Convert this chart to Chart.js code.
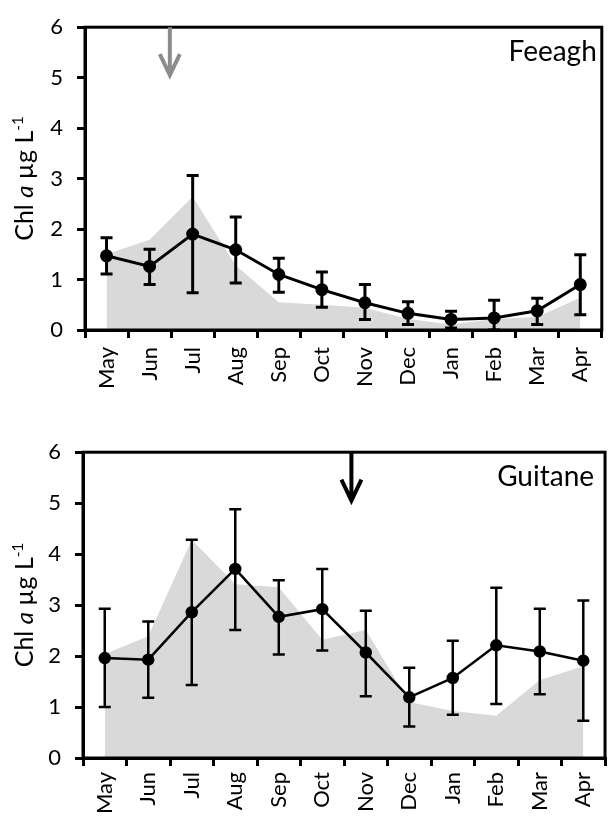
<!DOCTYPE html>
<html>
<head>
<meta charset="utf-8">
<script src="https://cdn.jsdelivr.net/npm/chart.js@4.4.1/dist/chart.umd.min.js"></script>
<style>
    html, body { margin: 0; padding: 0; background: #fff; }
    #wrap { position: relative; width: 616px; height: 818px; overflow: hidden; }
    .panel { position: absolute; left: 0; width: 616px; }
</style>
</head>
<body>
<div id="wrap">
    <div class="panel" style="top:0;height:410px"><canvas id="feeaghChart" width="616" height="410"></canvas></div>
    <div class="panel" style="top:425px;height:393px"><canvas id="guitaneChart" width="616" height="393"></canvas></div>
</div>
<script>
const months = ['May', 'Jun', 'Jul', 'Aug', 'Sep', 'Oct', 'Nov', 'Dec', 'Jan', 'Feb', 'Mar', 'Apr'];
const yMin = 0;
const yMax = 6;

// Feeagh
const feeaghMean  = [1.47, 1.26, 1.90, 1.59, 1.10, 0.80, 0.54, 0.33, 0.21, 0.24, 0.38, 0.90];
const feeaghUpper = [1.83, 1.60, 3.06, 2.24, 1.42, 1.15, 0.90, 0.56, 0.37, 0.59, 0.63, 1.49];
const feeaghLower = [1.11, 0.90, 0.74, 0.93, 0.75, 0.45, 0.21, 0.11, 0.04, 0.00, 0.11, 0.30];
const feeaghArea  = [1.50, 1.79, 2.64, 1.28, 0.55, 0.50, 0.44, 0.22, 0.11, 0.22, 0.26, 0.64];
const feeaghArrowAt = 1.47;

// Guitane
const guitaneMean  = [1.96, 1.93, 2.86, 3.71, 2.77, 2.92, 2.07, 1.19, 1.57, 2.21, 2.09, 1.91];
const guitaneUpper = [2.93, 2.68, 4.28, 4.88, 3.49, 3.71, 2.89, 1.77, 2.30, 3.34, 2.93, 3.09];
const guitaneLower = [1.00, 1.18, 1.43, 2.51, 2.03, 2.11, 1.21, 0.62, 0.85, 1.06, 1.25, 0.73];
const guitaneArea  = [2.04, 2.39, 4.28, 3.41, 3.35, 2.32, 2.51, 1.10, 0.92, 0.83, 1.53, 1.80];
const guitaneArrowAt = 5.67;

const FONT = 'Lato, "Open Sans", sans-serif';
Chart.defaults.color = '#000';
Chart.defaults.font.family = FONT;

// error bars, frame, arrow, lake name and y title
const panelExtras = {
    id: 'panelExtras',
    afterDatasetsDraw(chart, args, opts) {
        const ctx = chart.ctx;
        const x = chart.scales.x;
        const y = chart.scales.y;
        ctx.save();
        ctx.strokeStyle = '#000';
        ctx.lineWidth = opts.barWidth;
        ctx.lineCap = 'butt';
        opts.upper.forEach((hi, i) => {
            const px = x.getPixelForValue(i);
            const top = y.getPixelForValue(hi);
            const bot = y.getPixelForValue(opts.lower[i]);
            ctx.beginPath();
            ctx.moveTo(px, top);
            ctx.lineTo(px, bot);
            ctx.moveTo(px - 6, top);
            ctx.lineTo(px + 6, top);
            ctx.moveTo(px - 6, bot);
            ctx.lineTo(px + 6, bot);
            ctx.stroke();
        });
        ctx.restore();
    },
    afterDraw(chart, args, opts) {
        const ctx = chart.ctx;
        const a = chart.chartArea;
        const x = chart.scales.x;
        const y = chart.scales.y;
        ctx.save();

        // box round the plot
        ctx.strokeStyle = '#000';
        ctx.lineWidth = 3;
        ctx.strokeRect(a.left, a.top, a.right - a.left, a.bottom - a.top);

        // arrow
        const ax = x.getPixelForValue(opts.arrowAt);
        const tip = y.getPixelForValue(5.05);
        ctx.strokeStyle = opts.arrowColor;
        ctx.lineWidth = 4;
        ctx.beginPath();
        ctx.moveTo(ax, a.top);
        ctx.lineTo(ax, tip);
        ctx.moveTo(ax - 10, tip - 21);
        ctx.lineTo(ax, tip);
        ctx.lineTo(ax + 10, tip - 21);
        ctx.stroke();

        // lake name
        ctx.fillStyle = '#000';
        ctx.font = '28px ' + FONT;
        ctx.textAlign = 'right';
        ctx.textBaseline = 'alphabetic';
        ctx.fillText(opts.name, a.right - opts.nameInset, a.top + 34);

        // y title: Chl a µg L-1
        const big = '25px ' + FONT;
        const ital = 'italic 24px ' + FONT;
        const small = '15px ' + FONT;
        const parts = [
            {t: 'Chl ', f: big, dy: 0},
            {t: 'a', f: ital, dy: 0},
            {t: ' \u00b5g L', f: big, dy: 0},
            {t: '-1', f: small, dy: -10}
        ];
        let total = 0;
        parts.forEach(p => { ctx.font = p.f; p.w = ctx.measureText(p.t).width; total += p.w; });
        ctx.translate(33, (a.top + a.bottom) / 2);
        ctx.rotate(-Math.PI / 2);
        ctx.textAlign = 'left';
        let cx = -total / 2;
        parts.forEach(p => {
            ctx.font = p.f;
            ctx.fillText(p.t, cx, p.dy);
            cx += p.w;
        });
        ctx.restore();
    }
};

function makeChart(canvasId, cfg) {
    const ctx = document.getElementById(canvasId);
    return new Chart(ctx, {
        type: 'line',
        data: {
            labels: months,
            datasets: [{
                data: cfg.mean,
                borderColor: '#000',
                borderWidth: cfg.lineWidth,
                pointRadius: 5,
                pointBackgroundColor: '#000',
                pointBorderColor: '#000',
                tension: 0,
                fill: false,
                order: 1
            }, {
                data: cfg.area,
                borderWidth: 0,
                borderColor: 'rgba(0,0,0,0)',
                backgroundColor: '#d9d9d9',
                pointRadius: 0,
                tension: 0,
                fill: 'origin',
                order: 2
            }]
        },
        options: {
            responsive: false,
            animation: false,
            events: [],
            layout: {
                padding: {top: cfg.top, right: 2, left: 0, bottom: 0}
            },
            scales: {
                x: {
                    offset: true,
                    afterFit: (scale) => { scale.height = cfg.xHeight; },
                    grid: {
                        offset: true,
                        drawOnChartArea: false,
                        drawTicks: true,
                        tickLength: 8,
                        color: '#000',
                        lineWidth: 3
                    },
                    border: {display: true, color: '#000', width: 3},
                    ticks: {
                        autoSkip: false,
                        minRotation: 90,
                        maxRotation: 90,
                        padding: cfg.xPad,
                        font: {size: 22}
                    }
                },
                y: {
                    min: yMin,
                    max: yMax,
                    afterFit: (scale) => { scale.width = cfg.left; },
                    grid: {
                        drawOnChartArea: false,
                        drawTicks: true,
                        tickLength: 8,
                        color: '#000',
                        lineWidth: 3
                    },
                    border: {display: true, color: '#000', width: 3},
                    ticks: {
                        stepSize: 1,
                        padding: 14,
                        font: {size: 22}
                    }
                }
            },
            plugins: {
                legend: {display: false},
                tooltip: {enabled: false},
                panelExtras: {
                    upper: cfg.upper,
                    lower: cfg.lower,
                    barWidth: cfg.barWidth,
                    arrowAt: cfg.arrowAt,
                    arrowColor: cfg.arrowColor,
                    name: cfg.name,
                    nameInset: cfg.nameInset
                }
            }
        },
        plugins: [panelExtras]
    });
}

makeChart('feeaghChart', {
    mean: feeaghMean, upper: feeaghUpper, lower: feeaghLower, area: feeaghArea,
    arrowAt: feeaghArrowAt, arrowColor: '#8c8c8c', name: 'Feeagh', nameInset: 5,
    top: 19, left: 85, xHeight: 80, xPad: 9, lineWidth: 3, barWidth: 3
});

makeChart('guitaneChart', {
    mean: guitaneMean, upper: guitaneUpper, lower: guitaneLower, area: guitaneArea,
    arrowAt: guitaneArrowAt, arrowColor: '#000', name: 'Guitane', nameInset: 11,
    top: 20, left: 83, xHeight: 60, xPad: 6, lineWidth: 2.5, barWidth: 2.5
});
</script>
</body>
</html>
